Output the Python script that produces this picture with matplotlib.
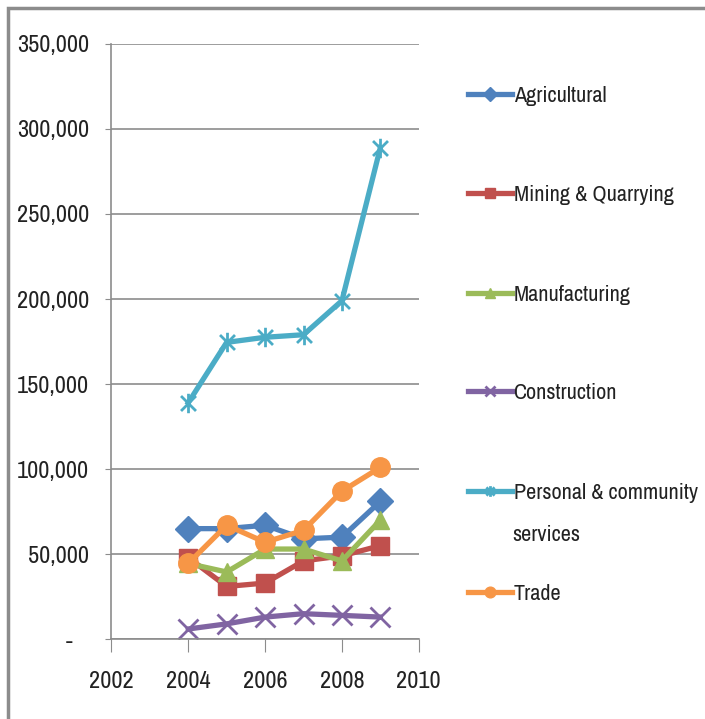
import numpy as np
import matplotlib
matplotlib.use("Agg")
import matplotlib.pyplot as plt
from matplotlib import font_manager
from matplotlib.path import Path
from matplotlib.patches import Rectangle
from matplotlib.ticker import FuncFormatter

# pick a narrow face (Arial Narrow look-alike first), otherwise Lato a bit smaller
faces = font_manager.fontManager.ttflist
narrow = sorted([f for f in faces if "Narrow" in f.fname and "Bold" not in f.fname
                 and "Italic" not in f.fname], key=lambda f: f.fname)
if not narrow:
    narrow = sorted([f for f in faces if "Condensed" in f.fname and "Bold" not in f.fname
                     and "Italic" not in f.fname], key=lambda f: f.name)
if narrow:
    plt.rcParams['font.family'] = [narrow[0].name, 'DejaVu Sans']
    plt.rcParams['font.stretch'] = narrow[0].stretch
    fs_tick, fs_leg = 17.5, 16
else:
    plt.rcParams['font.family'] = ['Lato', 'DejaVu Sans']
    fs_tick, fs_leg = 14.5, 14.5

years = [2004, 2005, 2006, 2007, 2008, 2009]
agricultural = [65000, 65000, 67000, 59000, 60000, 81000]
mining = [48000, 31000, 33000, 46000, 49000, 55000]
manufacturing = [44500, 39500, 53000, 53000, 46000, 70000]
construction = [6000, 9000, 13000, 15000, 14000, 13000]
personal = [139000, 174500, 177500, 179000, 199000, 289000]
trade = [44500, 67000, 57000, 64000, 87000, 101000]

labels = ["Agricultural", "Mining & Quarrying", "Manufacturing", "Construction",
          "Personal & community", "Trade"]
colors = ["#4F81BD", "#C0504D", "#9BBB59", "#8064A2", "#4BACC6", "#F79646"]

# asterisk marker like Excel's "star"
star = Path([(-1, -1), (1, 1), (-1, 1), (1, -1), (0, -1.3), (0, 1.3)],
            [Path.MOVETO, Path.LINETO, Path.MOVETO, Path.LINETO, Path.MOVETO, Path.LINETO])
markers = ["D", "s", "^", "x", star, "o"]
sizes = [13, 13, 13, 14, 14, 14]
series = [agricultural, mining, manufacturing, construction, personal, trade]

fig = plt.figure(figsize=(7.05, 7.19), dpi=100)
ax = fig.add_axes([0.158, 0.111, 0.436, 0.828])

lines = []
for vals, c, m, ms in zip(series, colors, markers, sizes):
    filled = m != "x" and not isinstance(m, Path)
    ln, = ax.plot(years, vals, color=c, lw=3.8, marker=m, ms=ms,
                  mfc=c if filled else "none", mec=c, mew=1 if filled else 2)
    lines.append(ln)

ax.set_xlim(2002, 2010)
ax.set_ylim(0, 350000)
ax.set_xticks(np.arange(2002, 2011, 2))
ax.set_yticks(np.arange(0, 350001, 50000))
ax.yaxis.set_major_formatter(FuncFormatter(lambda v, p: "-   " if v == 0 else f"{int(v):,}"))
ax.grid(axis="y", color="#8c8c8c", lw=1.2)
ax.set_axisbelow(True)
for s in ["top", "right"]:
    ax.spines[s].set_visible(False)
for s in ["left", "bottom"]:
    ax.spines[s].set_color("#8c8c8c")
    ax.spines[s].set_linewidth(1.2)
ax.tick_params(axis="y", length=4, color="#8c8c8c", labelsize=fs_tick, pad=12)
ax.tick_params(axis="x", length=9, color="#8c8c8c", labelsize=fs_tick, pad=14)
for t in ax.get_xticklabels() + ax.get_yticklabels():
    t.set_color("#222222")

# legend entries placed one by one, like Excel spacing
leg_y = [96, 195, 295, 393, 493, 594]
for ln, lab, y in zip(lines, labels, leg_y):
    fig.legend([ln], [lab], loc="center left",
               bbox_to_anchor=(468 / 705, 1 - y / 719), frameon=False,
               fontsize=fs_leg, handlelength=2.0, handletextpad=0.05,
               borderpad=0, borderaxespad=0, markerscale=0.55, labelcolor="#222222")
fig.text(512 / 705, 1 - 535 / 719, "services", fontsize=fs_leg, color="#222222",
         va="center", ha="left")

# grey screenshot frame at the top and left
fig.add_artist(Rectangle((8 / 705, -0.1), 1.2, 1.1 - 8 / 719, transform=fig.transFigure,
                         fill=False, ec="#8c8c8c", lw=2.5))

fig.savefig("out.png", dpi=100)
